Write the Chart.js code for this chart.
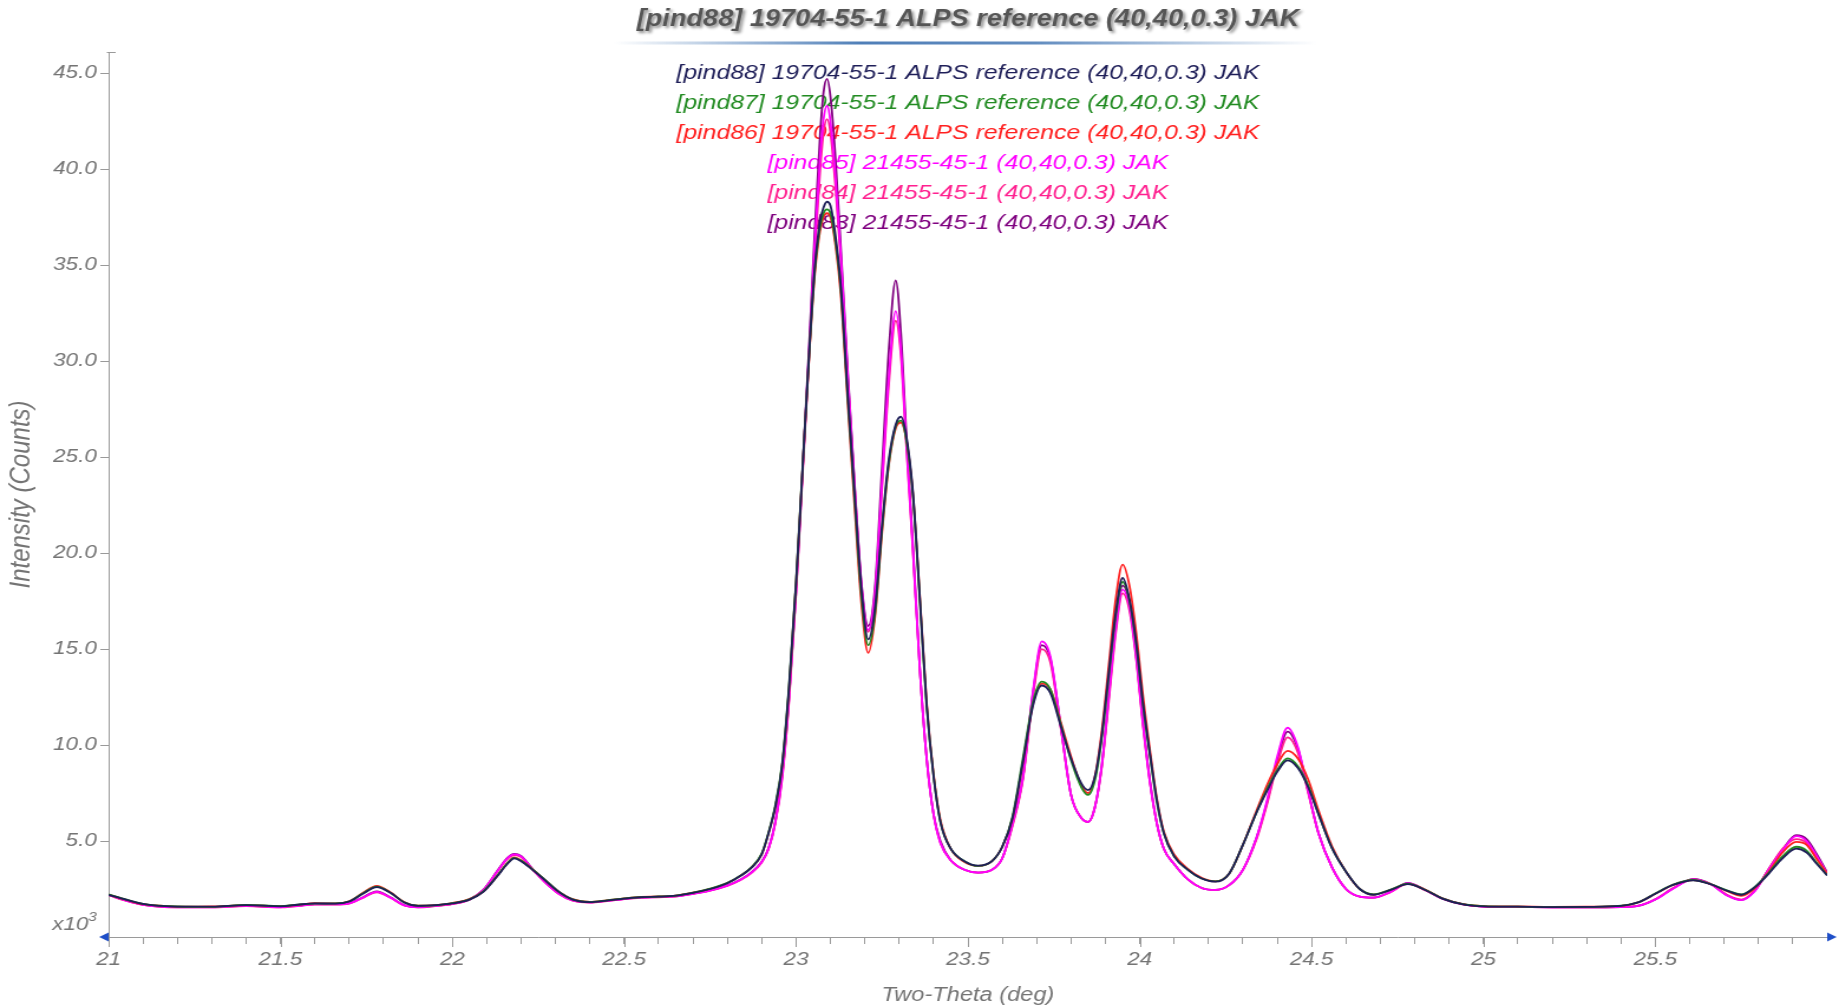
<!DOCTYPE html>
<html>
<head>
<meta charset="utf-8">
<script src="https://cdn.jsdelivr.net/npm/chart.js@4.4.1/dist/chart.umd.min.js"></script>
<style>
  html, body { margin: 0; padding: 0; background: #fff; }
</style>
</head>
<body>
<!-- drawn narrow and shown stretched, like the instrument export -->
<canvas id="xrd" width="1558" height="1007" style="display:block;width:1839px;height:1007px"></canvas>
<script>
const FONT = '"Liberation Sans", Arial, sans-serif';

const chartTitle = '[pind88] 19704-55-1 ALPS reference (40,40,0.3) JAK';

const scanNames = [
    '[pind88] 19704-55-1 ALPS reference (40,40,0.3) JAK',
    '[pind87] 19704-55-1 ALPS reference (40,40,0.3) JAK',
    '[pind86] 19704-55-1 ALPS reference (40,40,0.3) JAK',
    '[pind85] 21455-45-1 (40,40,0.3) JAK',
    '[pind84] 21455-45-1 (40,40,0.3) JAK',
    '[pind83] 21455-45-1 (40,40,0.3) JAK'
];

const scanColors = ['#1e1e58', '#228b22', '#ff2020', '#ff00ff', '#ff2090', '#800080'];

// Two-Theta positions (deg)
const twoTheta = [
    21.00, 21.05, 21.10, 21.15, 21.20, 21.30, 21.40, 21.50, 21.55, 21.60,
    21.66, 21.70, 21.74, 21.78, 21.82, 21.86, 21.90, 21.95, 22.00, 22.05,
    22.09, 22.13, 22.16, 22.18, 22.20, 22.23, 22.27, 22.31, 22.35, 22.40,
    22.45, 22.50, 22.55, 22.60, 22.65, 22.70, 22.75, 22.80, 22.84, 22.87,
    22.90, 22.92, 22.94, 22.96, 22.98, 23.00, 23.02, 23.04, 23.055, 23.07,
    23.08, 23.09, 23.10, 23.115, 23.13, 23.15, 23.17, 23.19, 23.21, 23.23,
    23.25, 23.27, 23.29, 23.305, 23.32, 23.34, 23.36, 23.38, 23.40, 23.42,
    23.45, 23.49, 23.53, 23.57, 23.60, 23.63, 23.66, 23.69, 23.715, 23.74,
    23.77, 23.80, 23.83, 23.85, 23.87, 23.89, 23.91, 23.93, 23.95, 23.97,
    23.99, 24.01, 24.03, 24.05, 24.07, 24.10, 24.14, 24.18, 24.22, 24.26,
    24.30, 24.34, 24.37, 24.40, 24.43, 24.46, 24.49, 24.52, 24.56, 24.60,
    24.64, 24.68, 24.73, 24.78, 24.83, 24.88, 24.94, 25.00, 25.10, 25.20,
    25.30, 25.40, 25.45, 25.50, 25.55, 25.61, 25.66, 25.71, 25.75, 25.79,
    25.83, 25.87, 25.91, 25.94, 25.97, 26.00
];

// Intensity, x10^3 counts
const pind88 = [
    2.20, 1.95, 1.72, 1.62, 1.58, 1.58, 1.66, 1.60, 1.68, 1.75,
    1.74, 1.85, 2.25, 2.60, 2.30, 1.80, 1.62, 1.66, 1.75, 1.95,
    2.35, 3.15, 3.80, 4.10, 3.95, 3.55, 2.95, 2.35, 1.95, 1.82,
    1.90, 2.00, 2.08, 2.10, 2.15, 2.30, 2.50, 2.80, 3.20, 3.60,
    4.30, 5.40, 6.80, 9.00, 13.1, 18.4, 24.7, 31.0, 35.0, 37.3,
    38.0, 38.3, 38.1, 36.5, 34.0, 28.4, 23.2, 18.2, 15.5, 17.2,
    21.4, 24.9, 26.7, 27.1, 26.2, 23.2, 17.7, 12.1, 8.40, 6.00,
    4.60, 3.95, 3.72, 3.95, 4.70, 6.20, 9.10, 12.1, 13.1, 12.7,
    11.0, 9.30, 8.00, 7.65, 8.40, 10.6, 13.8, 16.9, 18.7, 17.6,
    15.3, 12.1, 9.50, 7.10, 5.40, 4.20, 3.50, 3.05, 2.88, 3.30,
    4.80, 6.50, 7.60, 8.60, 9.20, 8.80, 7.80, 6.40, 4.60, 3.40,
    2.50, 2.20, 2.45, 2.75, 2.45, 2.00, 1.70, 1.60, 1.58, 1.56,
    1.57, 1.62, 1.80, 2.25, 2.70, 2.95, 2.75, 2.40, 2.20, 2.60,
    3.30, 4.10, 4.60, 4.40, 3.80, 3.20
];

const pind87 = [
    2.22, 1.96, 1.73, 1.63, 1.59, 1.57, 1.67, 1.61, 1.69, 1.74,
    1.75, 1.86, 2.28, 2.62, 2.31, 1.81, 1.63, 1.65, 1.76, 1.96,
    2.38, 3.18, 3.84, 4.12, 3.98, 3.57, 2.97, 2.36, 1.96, 1.83,
    1.91, 2.01, 2.07, 2.11, 2.16, 2.31, 2.52, 2.82, 3.22, 3.63,
    4.35, 5.45, 6.90, 9.10, 13.2, 18.5, 24.8, 30.9, 34.8, 37.0,
    37.7, 37.9, 37.7, 36.2, 33.8, 28.2, 22.9, 17.8, 15.2, 16.9,
    21.2, 24.7, 26.6, 26.9, 26.0, 23.0, 17.6, 12.0, 8.40, 6.00,
    4.60, 3.95, 3.70, 3.95, 4.70, 6.30, 9.30, 12.3, 13.3, 12.9,
    11.1, 9.20, 7.80, 7.40, 8.20, 10.4, 13.6, 16.7, 18.5, 17.5,
    15.2, 12.0, 9.40, 7.00, 5.40, 4.20, 3.50, 3.05, 2.90, 3.30,
    4.80, 6.50, 7.70, 8.70, 9.30, 8.90, 7.90, 6.40, 4.60, 3.40,
    2.50, 2.22, 2.47, 2.78, 2.46, 2.01, 1.71, 1.61, 1.58, 1.56,
    1.57, 1.63, 1.81, 2.27, 2.72, 2.97, 2.76, 2.42, 2.22, 2.62,
    3.35, 4.20, 4.70, 4.50, 3.85, 3.22
];

const pind86 = [
    2.21, 1.94, 1.71, 1.63, 1.58, 1.59, 1.66, 1.61, 1.67, 1.76,
    1.75, 1.86, 2.30, 2.66, 2.33, 1.82, 1.63, 1.66, 1.77, 1.97,
    2.37, 3.17, 3.85, 4.15, 4.00, 3.58, 2.96, 2.36, 1.97, 1.83,
    1.91, 2.01, 2.09, 2.11, 2.16, 2.31, 2.51, 2.81, 3.21, 3.62,
    4.30, 5.40, 6.80, 9.00, 13.0, 18.4, 24.7, 30.8, 34.6, 36.8,
    37.5, 37.7, 37.5, 36.0, 33.5, 27.9, 22.5, 17.4, 14.8, 16.7,
    21.0, 24.6, 26.5, 26.8, 26.0, 23.1, 17.8, 12.2, 8.50, 6.10,
    4.60, 3.90, 3.70, 3.95, 4.70, 6.20, 9.10, 12.2, 13.2, 12.9,
    11.2, 9.40, 7.90, 7.50, 8.40, 10.8, 14.2, 17.6, 19.4, 18.3,
    15.8, 12.5, 9.70, 7.20, 5.50, 4.30, 3.55, 3.08, 2.90, 3.30,
    4.80, 6.60, 7.90, 9.00, 9.70, 9.30, 8.20, 6.60, 4.70, 3.40,
    2.50, 2.21, 2.46, 2.77, 2.47, 2.02, 1.71, 1.61, 1.59, 1.57,
    1.58, 1.62, 1.80, 2.25, 2.70, 2.96, 2.76, 2.38, 2.15, 2.55,
    3.40, 4.40, 4.95, 4.80, 4.05, 3.30
];

const pind85 = [
    2.20, 1.90, 1.68, 1.58, 1.55, 1.55, 1.62, 1.55, 1.62, 1.70,
    1.70, 1.75, 2.05, 2.35, 2.05, 1.65, 1.55, 1.62, 1.72, 1.95,
    2.45, 3.40, 4.10, 4.30, 4.20, 3.60, 2.85, 2.25, 1.90, 1.80,
    1.88, 1.98, 2.05, 2.08, 2.12, 2.25, 2.42, 2.68, 3.00, 3.35,
    3.90, 4.60, 6.00, 8.40, 12.5, 18.0, 24.6, 31.2, 36.3, 40.6,
    42.6, 43.3, 42.5, 39.5, 35.6, 29.4, 23.6, 18.4, 16.0, 18.0,
    23.6, 29.2, 32.6, 30.6, 26.0, 20.2, 14.0, 9.30, 6.40, 4.90,
    4.00, 3.50, 3.35, 3.50, 4.10, 5.90, 8.30, 12.9, 15.4, 14.6,
    11.0, 7.40, 6.20, 6.00, 6.80, 9.00, 12.5, 16.0, 18.1, 17.2,
    14.5, 11.0, 8.00, 5.90, 4.60, 3.80, 3.00, 2.55, 2.45, 2.70,
    3.50, 5.20, 7.10, 9.40, 10.9, 9.90, 7.60, 5.40, 3.60, 2.50,
    2.10, 2.05, 2.35, 2.80, 2.45, 2.00, 1.70, 1.58, 1.56, 1.55,
    1.55, 1.56, 1.62, 1.95, 2.50, 3.00, 2.75, 2.15, 1.92, 2.40,
    3.50, 4.50, 5.25, 5.00, 4.20, 3.30
];

const pind84 = [
    2.18, 1.89, 1.67, 1.57, 1.54, 1.54, 1.61, 1.54, 1.61, 1.69,
    1.69, 1.74, 2.04, 2.33, 2.04, 1.64, 1.54, 1.61, 1.71, 1.94,
    2.43, 3.38, 4.06, 4.26, 4.16, 3.58, 2.84, 2.24, 1.89, 1.79,
    1.87, 1.97, 2.04, 2.07, 2.11, 2.24, 2.41, 2.66, 2.98, 3.33,
    3.88, 4.58, 5.95, 8.30, 12.4, 17.9, 24.4, 30.9, 35.8, 39.9,
    41.9, 42.6, 41.9, 39.0, 35.3, 29.2, 23.5, 18.3, 15.9, 17.9,
    23.3, 28.8, 32.1, 30.3, 25.8, 20.1, 14.0, 9.30, 6.40, 4.90,
    4.00, 3.50, 3.35, 3.50, 4.10, 5.80, 8.20, 12.6, 15.0, 14.3,
    10.9, 7.40, 6.20, 6.00, 6.80, 8.90, 12.3, 15.8, 17.9, 17.0,
    14.4, 10.9, 8.00, 5.90, 4.60, 3.80, 3.00, 2.55, 2.45, 2.70,
    3.50, 5.10, 6.90, 9.00, 10.4, 9.60, 7.50, 5.40, 3.60, 2.50,
    2.10, 2.05, 2.34, 2.78, 2.44, 2.00, 1.70, 1.58, 1.56, 1.55,
    1.55, 1.56, 1.63, 1.97, 2.52, 3.00, 2.76, 2.18, 1.95, 2.45,
    3.55, 4.60, 5.10, 4.90, 4.15, 3.30
];

const pind83 = [
    2.19, 1.91, 1.69, 1.59, 1.56, 1.56, 1.63, 1.56, 1.63, 1.71,
    1.71, 1.76, 2.07, 2.38, 2.07, 1.66, 1.56, 1.63, 1.73, 1.96,
    2.46, 3.42, 4.12, 4.33, 4.22, 3.62, 2.86, 2.26, 1.91, 1.81,
    1.89, 1.99, 2.06, 2.09, 2.13, 2.26, 2.43, 2.69, 3.01, 3.37,
    3.92, 4.62, 6.05, 8.50, 12.6, 18.0, 24.7, 31.5, 37.0, 41.8,
    44.0, 44.7, 43.8, 40.5, 36.0, 29.6, 23.7, 18.5, 16.2, 18.3,
    24.4, 30.6, 34.2, 31.5, 26.5, 20.4, 14.0, 9.30, 6.40, 5.00,
    4.00, 3.50, 3.35, 3.50, 4.10, 5.90, 8.30, 12.8, 15.2, 14.5,
    11.0, 7.40, 6.20, 6.00, 6.80, 9.00, 12.6, 16.2, 18.3, 17.4,
    14.6, 11.1, 8.10, 5.90, 4.60, 3.80, 3.00, 2.55, 2.45, 2.70,
    3.50, 5.20, 7.00, 9.20, 10.7, 9.80, 7.60, 5.40, 3.60, 2.50,
    2.10, 2.05, 2.36, 2.82, 2.46, 2.01, 1.71, 1.58, 1.56, 1.55,
    1.55, 1.56, 1.62, 1.96, 2.52, 3.02, 2.77, 2.16, 1.93, 2.42,
    3.55, 4.55, 5.30, 5.10, 4.30, 3.35
];

const scans = [pind88, pind87, pind86, pind85, pind84, pind83];

const axisGray = '#9a9a9a';
const labelGray = '#747474';

// title, rule and coloured scan names; drawn under the traces
const headerPlugin = {
    id: 'header',
    beforeDatasetsDraw(chart) {
        const {ctx, chartArea} = chart;
        const cx = (chartArea.left + chartArea.right) / 2;
        ctx.save();
        ctx.textAlign = 'center';
        ctx.textBaseline = 'middle';

        ctx.font = 'italic bold 23px ' + FONT;
        ctx.shadowColor = 'rgba(0,0,0,0.45)';
        ctx.shadowBlur = 3;
        ctx.shadowOffsetX = 2;
        ctx.shadowOffsetY = 2;
        ctx.fillStyle = '#555';
        ctx.fillText(chartTitle, cx, 20);
        ctx.shadowColor = 'transparent';

        const x0 = 520, x1 = 1116;
        const g = ctx.createLinearGradient(x0, 0, x1, 0);
        g.addColorStop(0, 'rgba(70,120,180,0)');
        g.addColorStop(0.35, 'rgba(70,120,180,0.95)');
        g.addColorStop(0.6, 'rgba(70,120,180,0.85)');
        g.addColorStop(1, 'rgba(70,120,180,0)');
        ctx.fillStyle = g;
        ctx.fillRect(x0, 41.5, x1 - x0, 3);

        ctx.font = 'italic 21px ' + FONT;
        chart.data.datasets.forEach((ds, i) => {
            ctx.fillStyle = ds.borderColor;
            ctx.fillText(ds.label, cx, 73 + i * 30);
        });
        ctx.restore();
    }
};

// arrow heads, longer half-degree marks, axis cap and the x10^3 note
const axisPlugin = {
    id: 'axisExtras',
    afterDraw(chart) {
        const {ctx, chartArea: a, scales: {x}} = chart;
        ctx.save();
        ctx.strokeStyle = axisGray;
        ctx.lineWidth = 1;
        x.ticks.forEach(t => {
            const r = Math.round(t.value * 10);
            if (r % 5 === 0 && r < 260) {
                const px = Math.round(x.getPixelForValue(t.value)) + 0.5;
                ctx.beginPath();
                ctx.moveTo(px, a.bottom);
                ctx.lineTo(px, a.bottom + 10);
                ctx.stroke();
            }
        });
        ctx.beginPath();
        ctx.moveTo(a.left - 1.5, a.top + 0.5);
        ctx.lineTo(a.left + 6, a.top + 0.5);
        ctx.stroke();

        ctx.fillStyle = '#1f4fc8';
        ctx.beginPath();
        ctx.moveTo(a.left - 8, a.bottom);
        ctx.lineTo(a.left, a.bottom - 4.5);
        ctx.lineTo(a.left, a.bottom + 4.5);
        ctx.closePath();
        ctx.fill();
        ctx.beginPath();
        ctx.moveTo(a.right + 8, a.bottom);
        ctx.lineTo(a.right, a.bottom - 4.5);
        ctx.lineTo(a.right, a.bottom + 4.5);
        ctx.closePath();
        ctx.fill();

        ctx.fillStyle = labelGray;
        ctx.textAlign = 'right';
        ctx.textBaseline = 'alphabetic';
        ctx.font = 'italic 13px ' + FONT;
        const w3 = ctx.measureText('3').width;
        ctx.fillText('3', 82, 921);
        ctx.font = 'italic 19px ' + FONT;
        ctx.fillText('x10', 82 - w3, 930);
        ctx.restore();
    }
};

const canvas = document.getElementById('xrd');
new Chart(canvas.getContext('2d'), {
    type: 'line',
    data: {
        datasets: scans.map((vals, i) => ({
            label: scanNames[i],
            data: twoTheta.map((t, j) => ({x: t, y: vals[j]})),
            borderColor: scanColors[i],
            backgroundColor: scanColors[i],
            borderWidth: 1.8,
            pointRadius: 0,
            cubicInterpolationMode: 'monotone',
            fill: false
        }))
    },
    options: {
        responsive: false,
        animation: false,
        devicePixelRatio: 1,
        layout: {
            padding: {left: 0, right: 10, top: 52, bottom: 0}
        },
        plugins: {
            legend: {display: false},
            tooltip: {enabled: false},
            title: {display: false}
        },
        scales: {
            x: {
                type: 'linear',
                min: 21,
                max: 26,
                afterFit: (scale) => { scale.height = 70; },
                border: {display: true, color: axisGray, width: 1},
                grid: {
                    drawOnChartArea: false,
                    drawTicks: true,
                    tickLength: 7,
                    tickColor: (c) => (c.tick && c.tick.value >= 25.95 ? 'rgba(0,0,0,0)' : axisGray)
                },
                ticks: {
                    stepSize: 0.1,
                    autoSkip: false,
                    maxRotation: 0,
                    padding: 4,
                    color: labelGray,
                    font: {family: FONT, size: 19, style: 'italic'},
                    callback: (v) => {
                        const r = Math.round(v * 10);
                        return (r % 5 === 0 && r < 260) ? String(r / 10) : '';
                    }
                },
                title: {
                    display: true,
                    text: 'Two-Theta (deg)',
                    color: labelGray,
                    font: {family: FONT, size: 20, style: 'italic'},
                    padding: {top: 0, bottom: 0}
                }
            },
            y: {
                min: 0,
                max: 46.1,
                afterFit: (scale) => { scale.width = 92; },
                border: {display: true, color: axisGray, width: 1},
                grid: {
                    drawOnChartArea: false,
                    drawTicks: true,
                    tickLength: 7,
                    tickColor: (c) => (c.tick && c.tick.value === 0 ? 'rgba(0,0,0,0)' : axisGray)
                },
                ticks: {
                    stepSize: 5,
                    includeBounds: false,
                    padding: 3,
                    color: labelGray,
                    font: {family: FONT, size: 19, style: 'italic'},
                    callback: (v) => (v === 0 ? '' : v.toFixed(1))
                },
                title: {
                    display: true,
                    text: 'Intensity (Counts)',
                    color: labelGray,
                    font: {family: FONT, size: 24, style: 'italic'},
                    padding: {top: 4, bottom: 0}
                }
            }
        }
    },
    plugins: [headerPlugin, axisPlugin]
});
// keep the stretched display size
canvas.style.width = '1839px';
canvas.style.height = '1007px';
</script>
</body>
</html>
